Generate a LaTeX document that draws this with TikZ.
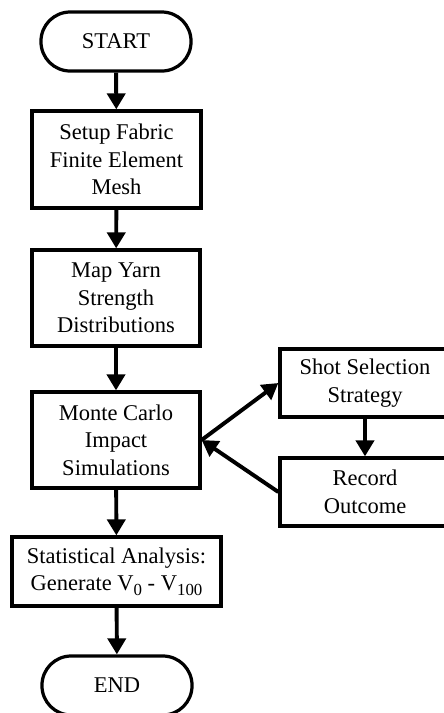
\documentclass[tikz,border=0pt]{standalone}
\usepackage{fontspec}
\setmainfont{Liberation Serif}
\usetikzlibrary{positioning,arrows.meta}
\newcommand{\lowsub}[1]{\raisebox{-0.45ex}{\fontsize{12}{12}\selectfont #1}}

\begin{document}
\begin{tikzpicture}[x=0.025cm,y=-0.025cm,
  box/.style={draw,line width=2.3pt,align=center,inner sep=2pt,font=\fontsize{16}{19.5}\selectfont},
  term/.style={box,rounded corners=0.73cm,minimum width=3.75cm,minimum height=1.475cm},
  flow/.style={line width=2.8pt,-{Triangle[width=0.45cm,length=0.4cm]}}]
\clip (0,0) rectangle (444,713);
\node[term] (start) at (116,41.5) {START};
\node[box,minimum width=4.225cm,minimum height=2.425cm] (setup) at (116.5,159.5) {Setup Fabric\\Finite Element\\Mesh};
\node[box,minimum width=4.2cm,minimum height=2.4cm] (map) at (116,298) {Map Yarn\\Strength\\Distributions};
\node[box,minimum width=4.2cm,minimum height=2.4cm] (monte) at (116,440) {Monte Carlo\\Impact\\Simulations};
\node[box,minimum width=5.225cm,minimum height=1.725cm] (stats) at (116.5,571.5) {Statistical Analysis:\\Generate V\lowsub{0} - V\lowsub{100}};
\node[term] (end) at (117,685.5) {END};
\node[box,minimum width=4.25cm,minimum height=1.7cm] (shot) at (365,383) {Shot Selection\\Strategy};
\node[box,minimum width=4.25cm,minimum height=1.7cm] (record) at (365,492) {Record\\Outcome};
% main flow
\draw[flow] (start) -- (setup);
\draw[flow] (setup) -- (map);
\draw[flow] (map) -- (monte);
\draw[flow] (monte) -- (stats);
\draw[flow] (stats) -- (end);
% loop
\draw[flow] (monte.east) -- (shot.west);
\draw[flow] (shot) -- (record);
\draw[flow] (record.west) -- (monte.east);
\end{tikzpicture}
\end{document}
